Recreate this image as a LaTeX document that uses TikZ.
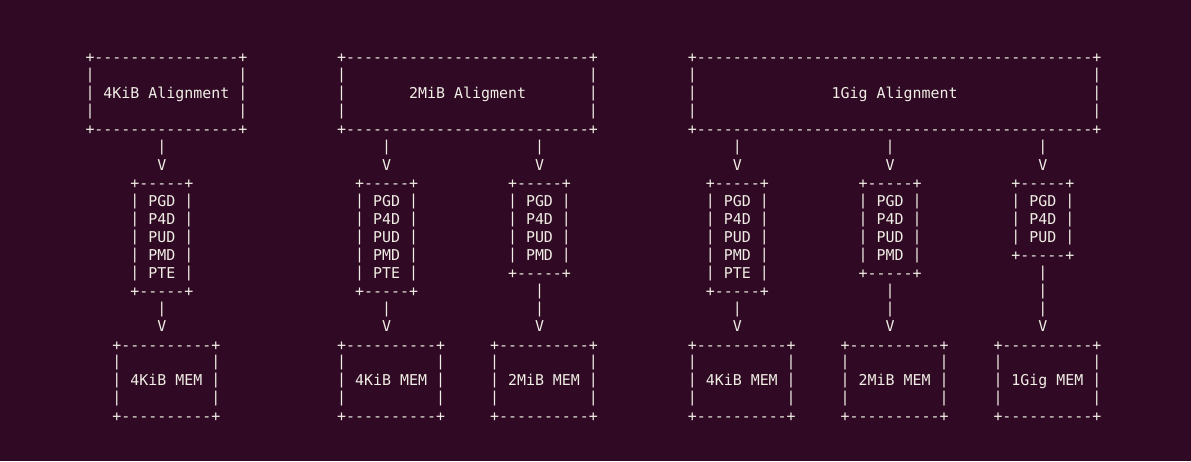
\documentclass[tikz,border=0pt]{standalone}
\usepackage{fontspec}
\newfontfamily\monofnt{DejaVu Sans Mono}
\definecolor{bg}{HTML}{300A24}
\definecolor{fg}{HTML}{F0EEE4}
\tikzset{
  chr/.style={anchor=base, inner sep=0pt, outer sep=0pt, text=fg,
              font=\monofnt\fontsize{14.93}{18}\selectfont},
  pm/.style={chr, yshift=-1.2pt},
  lbl/.style={chr, anchor=base west, yshift=-1pt},
}
% ASCII frame: name, col1, row1, col2, row2
\newcommand\abox[5]{%
  \pgfmathtruncatemacro\aboxca{#2+1}%
  \pgfmathtruncatemacro\aboxcb{#4-1}%
  \pgfmathtruncatemacro\aboxra{#3+1}%
  \pgfmathtruncatemacro\aboxrb{#5-1}%
  \foreach \c in {\aboxca,...,\aboxcb}{\node[pm] at (\c,#3) {-}; \node[pm] at (\c,#5) {-};}%
  \foreach \r in {\aboxra,...,\aboxrb}{\node[chr] at (#2,\r) {|}; \node[chr] at (#4,\r) {|};}%
  \foreach \c in {#2,#4}{\foreach \r in {#3,#5}{\node[pm] at (\c,\r) {+};}}%
  \coordinate (#1) at ({(#2+#4)/2},{(#3+#5)/2});%
}
% ASCII arrow: name, col, first bar row, V row
\newcommand\asciiarrow[4]{%
  \pgfmathtruncatemacro\aarb{#4-1}%
  \foreach \r in {#3,...,\aarb}{\node[chr] at (#2,\r) {|};}%
  \node[chr, yshift=-1pt] (#1) at (#2,#4) {V};%
}
% page-table box: name, left col, bottom row, entries
\newcommand\ptbox[4]{%
  \pgfmathtruncatemacro\ptc{#2+6}%
  \abox{#1}{#2}{7}{\ptc}{#3}%
  \foreach \t [count=\i from 8] in {#4}{\node[lbl] (#1-\i) at ({#2+1.5},\i) {\t};}%
}
\begin{document}
\begin{tikzpicture}
\fill[bg] (0pt,0pt) rectangle (1191pt,-461pt);
\useasboundingbox (0pt,0pt) rectangle (1191pt,-461pt);
\begin{scope}[shift={(90pt,-61.7pt)}, x=8.99pt, y=-17.95pt]
  % alignment boxes
  \abox{A1}{0}{0}{17}{4}
  \node[lbl] (A1l) at (1.5,2) {4KiB Alignment};
  \abox{A2}{28}{0}{56}{4}
  \node[lbl] (A2l) at (35.5,2) {2MiB Aligment};
  \abox{A3}{67}{0}{112}{4}
  \node[lbl] (A3l) at (82.5,2) {1Gig Alignment};
  % arrows to page tables
  \asciiarrow{u1}{8}{5}{6}
  \asciiarrow{u2}{33}{5}{6}
  \asciiarrow{u3}{50}{5}{6}
  \asciiarrow{u4}{72}{5}{6}
  \asciiarrow{u5}{89}{5}{6}
  \asciiarrow{u6}{106}{5}{6}
  % page tables
  \ptbox{T1}{5}{13}{PGD,P4D,PUD,PMD,PTE}
  \ptbox{T2}{30}{13}{PGD,P4D,PUD,PMD,PTE}
  \ptbox{T3}{47}{12}{PGD,P4D,PUD,PMD}
  \ptbox{T4}{69}{13}{PGD,P4D,PUD,PMD,PTE}
  \ptbox{T5}{86}{12}{PGD,P4D,PUD,PMD}
  \ptbox{T6}{103}{11}{PGD,P4D,PUD}
  % arrows to memory
  \asciiarrow{d1}{8}{14}{15}
  \asciiarrow{d2}{33}{14}{15}
  \asciiarrow{d3}{50}{13}{15}
  \asciiarrow{d4}{72}{14}{15}
  \asciiarrow{d5}{89}{13}{15}
  \asciiarrow{d6}{106}{12}{15}
  % memory boxes
  \abox{M1}{3}{16}{14}{20}
  \node[lbl] (M1l) at (4.5,18) {4KiB MEM};
  \abox{M2}{28}{16}{39}{20}
  \node[lbl] (M2l) at (29.5,18) {4KiB MEM};
  \abox{M3}{45}{16}{56}{20}
  \node[lbl] (M3l) at (46.5,18) {2MiB MEM};
  \abox{M4}{67}{16}{78}{20}
  \node[lbl] (M4l) at (68.5,18) {4KiB MEM};
  \abox{M5}{84}{16}{95}{20}
  \node[lbl] (M5l) at (85.5,18) {2MiB MEM};
  \abox{M6}{101}{16}{112}{20}
  \node[lbl] (M6l) at (102.5,18) {1Gig MEM};
\end{scope}
\end{tikzpicture}
\end{document}
